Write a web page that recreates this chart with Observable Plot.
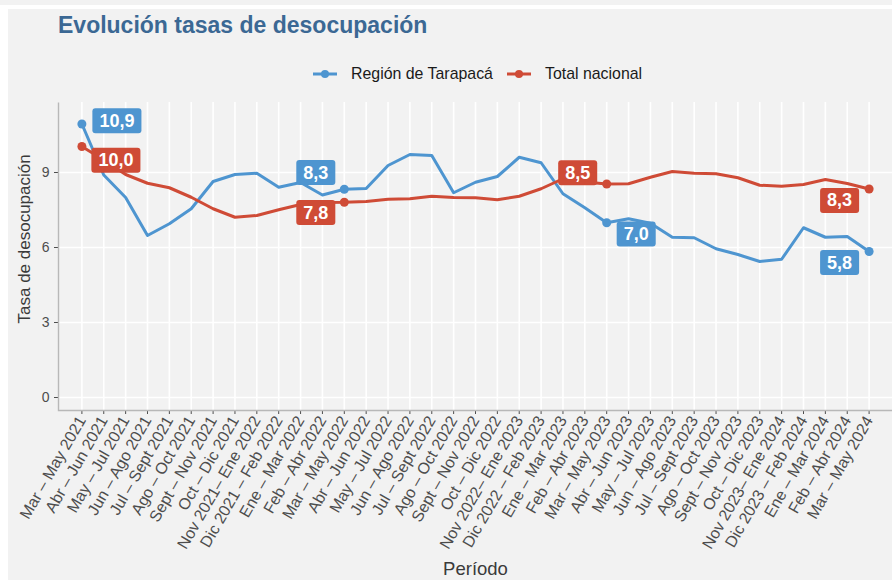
<!DOCTYPE html>
<html>
<head>
<meta charset="utf-8">
<script src="https://cdn.jsdelivr.net/npm/d3@7"></script>
<script src="https://cdn.jsdelivr.net/npm/@observablehq/plot@0.6"></script>
<style>
html, body { margin: 0; padding: 0; background: #ffffff; width: 892px; height: 580px; overflow: hidden;
  font-family: "Liberation Sans", Arial, sans-serif; }
#topstrip { position: absolute; left: 0; top: 0; width: 892px; height: 5px; background: #f2f2f2; }
#card { position: absolute; left: 8px; top: 9px; width: 884px; height: 571px; background: #f2f2f2; }
#title { position: absolute; left: 50px; top: 5px; font-size: 23px; line-height: 23px; font-weight: bold;
  color: #3b6894; white-space: nowrap; }
#legend { position: absolute; left: 305px; top: 56px; height: 18px; display: flex; align-items: center;
  font-size: 15.9px; color: #1a1a1a; white-space: nowrap; }
#legend .key { width: 24px; height: 10px; margin-right: 14px; }
#legend .item { display: flex; align-items: center; margin-right: 14px; }
#chart { position: absolute; left: 0; top: 81px; }
#chart svg [aria-label^="y-axis"] text { font-size: 14px; }
#chart svg [aria-label^="x-axis"] text { font-size: 16px; }
</style>
</head>
<body>
<div id="topstrip"></div>
<div id="card">
  <div id="title">Evolución tasas de desocupación</div>
  <div id="legend"></div>
  <div id="chart"></div>
</div>
<script>
// ---- Data ----
const periods = [
  "Mar – May 2021", "Abr – Jun 2021", "May – Jul 2021", "Jun – Ago 2021", "Jul – Sept 2021",
  "Ago – Oct 2021", "Sept – Nov 2021", "Oct – Dic 2021", "Nov 2021– Ene 2022", "Dic 2021 – Feb 2022",
  "Ene – Mar 2022", "Feb – Abr 2022", "Mar – May 2022", "Abr – Jun 2022", "May – Jul 2022",
  "Jun – Ago 2022", "Jul – Sept 2022", "Ago – Oct 2022", "Sept – Nov 2022", "Oct – Dic 2022",
  "Nov 2022– Ene 2023", "Dic 2022 – Feb 2023", "Ene – Mar 2023", "Feb – Abr 2023", "Mar – May 2023",
  "Abr – Jun 2023", "May – Jul 2023", "Jun – Ago 2023", "Jul – Sept 2023", "Ago – Oct 2023",
  "Sept – Nov 2023", "Oct – Dic 2023", "Nov 2023– Ene 2024", "Dic 2023 – Feb 2024", "Ene – Mar 2024",
  "Feb – Abr 2024", "Mar – May 2024"
];
const tarapaca = [
  10.94, 8.9, 8.0, 6.48, 6.95, 7.55, 8.64, 8.92, 8.97, 8.41,
  8.6, 8.1, 8.33, 8.36, 9.28, 9.72, 9.68, 8.19, 8.61, 8.84,
  9.61, 9.39, 8.15, 7.59, 6.99, 7.15, 6.97, 6.41, 6.39, 5.95,
  5.72, 5.44, 5.53, 6.79, 6.41, 6.44, 5.84
];
const nacional = [
  10.04, 9.5, 8.92, 8.57, 8.39, 8.01, 7.55, 7.21, 7.28, 7.51,
  7.72, 7.8, 7.81, 7.84, 7.93, 7.95, 8.05, 8.0, 7.99, 7.91,
  8.05, 8.35, 8.75, 8.62, 8.54, 8.55, 8.81, 9.04, 8.97, 8.95,
  8.79, 8.49, 8.45, 8.52, 8.72, 8.56, 8.34
];
const seriesNames = ["Región de Tarapacá", "Total nacional"];
const labelledIdx = [0, 12, 24, 36];
const yTicks = [0, 3, 6, 9];

// ---- Styles ----
const colTar = "#4e95d0";
const colNac = "#cf4b36";
const colors = [colTar, colNac];
// label offsets (pixels) per labelled point, per series
const offsetsTar = [[35, -3], [-28.5, -16.5], [29.5, 11.4], [-29.5, 11.3]];
const offsetsNac = [[34, 14], [-28.5, 10.5], [-29, -11], [-29.5, 11.7]];

const rowsTar = periods.map((p, i) => ({periodo: p, valor: tarapaca[i], i}));
const rowsNac = periods.map((p, i) => ({periodo: p, valor: nacional[i], i}));
const fmt = v => v.toFixed(1).replace(".", ",");

// Legend
const legend = document.getElementById("legend");
seriesNames.forEach((name, k) => {
  const item = document.createElement("div");
  item.className = "item";
  item.innerHTML = `<svg class="key" width="24" height="10"><line x1="0" x2="24" y1="5" y2="5" stroke="${colors[k]}" stroke-width="3"/><circle cx="12" cy="5" r="4" fill="${colors[k]}"/></svg><span>${name}</span>`;
  legend.appendChild(item);
});

const W = 834, H = 308;
const labelMarks = [];
labelledIdx.forEach((idx, k) => {
  labelMarks.push(Plot.text([rowsTar[idx]], {
    x: "periodo", y: "valor", text: d => fmt(d.valor), dx: offsetsTar[k][0], dy: offsetsTar[k][1],
    fill: "white", fontWeight: "bold", fontSize: 18, ariaDescription: "etiquetas-tarapaca"
  }));
  labelMarks.push(Plot.text([rowsNac[idx]], {
    x: "periodo", y: "valor", text: d => fmt(d.valor), dx: offsetsNac[k][0], dy: offsetsNac[k][1],
    fill: "white", fontWeight: "bold", fontSize: 18, ariaDescription: "etiquetas-nacional"
  }));
});

const plot = Plot.plot({
  width: 884,
  height: 490,
  marginLeft: 50,
  marginRight: 0,
  marginTop: 12,
  marginBottom: 170,
  style: {background: "transparent", fontFamily: "Liberation Sans, Arial, sans-serif", fontSize: "16px", color: "#4d4d4d", overflow: "visible"},
  x: {type: "point", domain: periods, padding: 1.07, tickRotate: -60, tickSize: 4, tickPadding: 3, label: null},
  y: {domain: [-0.52, 11.8], ticks: yTicks, tickSize: 4, tickPadding: 5, label: null, tickFormat: d => String(d)},
  marks: [
    Plot.ruleY(yTicks, {stroke: "white", strokeWidth: 1.6}),
    Plot.ruleX(periods, {stroke: "white", strokeWidth: 1.6}),
    Plot.frame({stroke: "#b8b8b8", strokeWidth: 1.4, strokeDasharray: `0 ${W + H} ${W + H}`}),
    Plot.line(rowsTar, {x: "periodo", y: "valor", stroke: colTar, strokeWidth: 3}),
    Plot.line(rowsNac, {x: "periodo", y: "valor", stroke: colNac, strokeWidth: 3}),
    Plot.dot(rowsTar.filter(d => labelledIdx.includes(d.i)), {x: "periodo", y: "valor", r: 4.5, fill: colTar}),
    Plot.dot(rowsNac.filter(d => labelledIdx.includes(d.i)), {x: "periodo", y: "valor", r: 4.5, fill: colNac}),
    ...labelMarks,
    Plot.text(["Período"], {text: d => d, frameAnchor: "bottom", dy: 164, fontSize: 18.5, fill: "#3a3a3a"}),
    Plot.text(["Tasa de desocupación"], {text: d => d, frameAnchor: "left", rotate: -90, dx: -34, dy: 67, fontSize: 17, fill: "#3a3a3a"})
  ]
});

document.getElementById("chart").appendChild(plot);

// label boxes behind label texts
[["etiquetas-tarapaca", colTar], ["etiquetas-nacional", colNac]].forEach(([name, color]) => {
  plot.querySelectorAll(`[aria-description="${name}"] text`).forEach(t => {
    const b = t.getBBox();
    const r = document.createElementNS("http://www.w3.org/2000/svg", "rect");
    const cy = b.y + b.height / 2;
    r.setAttribute("x", b.x - 7);
    r.setAttribute("y", cy - 12.5);
    r.setAttribute("width", b.width + 14);
    r.setAttribute("height", 25);
    r.setAttribute("rx", 3);
    r.setAttribute("fill", color);
    const tr = t.getAttribute("transform");
    if (tr) r.setAttribute("transform", tr);
    t.parentNode.insertBefore(r, t);
  });
});
</script>
</body>
</html>
